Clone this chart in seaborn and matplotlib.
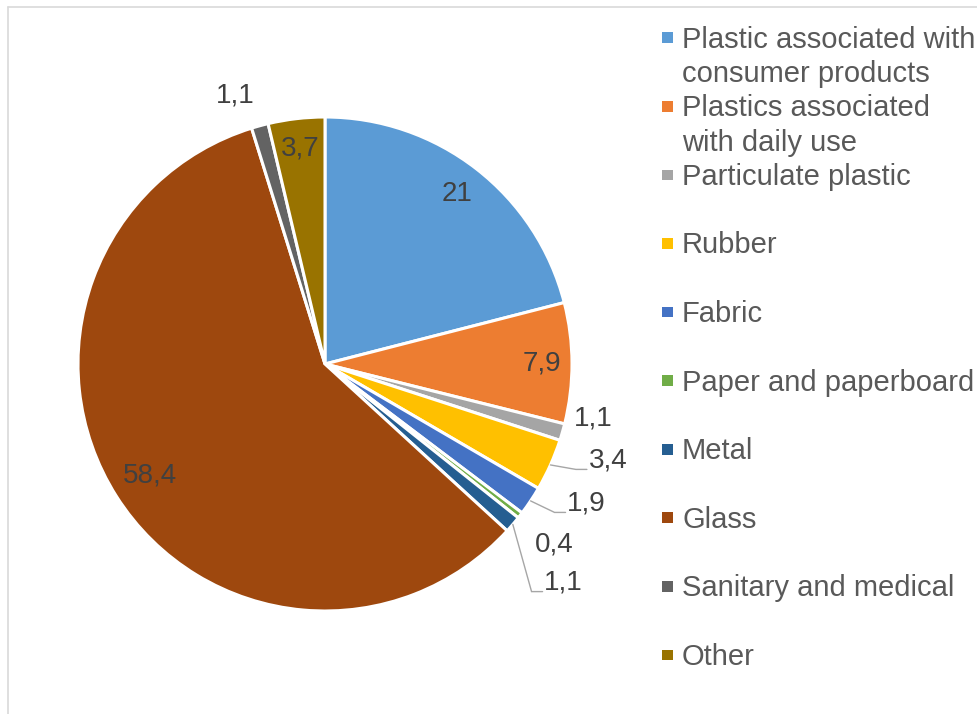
import textwrap
import numpy as np
import matplotlib
matplotlib.use("Agg")
import matplotlib.pyplot as plt
from matplotlib.patches import Rectangle
from matplotlib.lines import Line2D
import seaborn as sns

# ---- data -------------------------------------------------------------
categories = [
    "Plastic associated with consumer products",
    "Plastics associated with daily use",
    "Particulate plastic",
    "Rubber",
    "Fabric",
    "Paper and paperboard",
    "Metal",
    "Glass",
    "Sanitary and medical",
    "Other",
]
shares = [21, 7.9, 1.1, 3.4, 1.9, 0.4, 1.1, 58.4, 1.1, 3.7]
colors = ["#5B9BD5", "#ED7D31", "#A5A5A5", "#FFC000", "#4472C4",
          "#70AD47", "#255E91", "#9E480E", "#636363", "#997300"]

# label placement: radius (in pie radii) and angular nudge (degrees, clockwise)
label_radius = [0.87, 0.88, 1.107, 1.21, 1.20, 1.18, 1.31, 0.84, 1.146, 0.88]
label_nudge = [0, 0, -4.6, -5.3, -5.6, 0.4, 2.0, 0, -3.2, 0]
with_leader = [False, False, False, True, True, False, True, False, False, False]

# ---- style ------------------------------------------------------------
sns.set_theme(style="white")
plt.rcParams["font.family"] = ["Liberation Sans", "DejaVu Sans"]
palette = sns.color_palette(colors)

W, H = 977, 714
R = 247.0            # pie radius in pixels
CX, CY = 325.0, 364.0

fig = plt.figure(figsize=(W / 100, H / 100), dpi=100)
fig.patch.set_facecolor("white")
ax = fig.add_axes([0, 0, 1, 1])

wedges, _ = ax.pie(
    shares,
    colors=palette,
    startangle=90,
    counterclock=False,
    radius=1.0,
    wedgeprops=dict(edgecolor="white", linewidth=2.2),
)
ax.set_xlim(-CX / R, (W - CX) / R)
ax.set_ylim(-(H - CY) / R, CY / R)
ax.set_aspect("auto")
ax.axis("off")

# ---- data labels -------------------------------------------------------
label_color = "#404040"
leader_color = "#A6A6A6"
bounds = np.concatenate([[0], np.cumsum(shares)]) / np.sum(shares) * 360.0
px = 1.0 / R
for i, v in enumerate(shares):
    mid = (bounds[i] + bounds[i + 1]) / 2.0
    th = np.radians(mid + label_nudge[i])
    lx = label_radius[i] * np.sin(th)
    ly = label_radius[i] * np.cos(th)
    text = f"{v:g}".replace(".", ",")
    ax.text(lx, ly, text, ha="center", va="center", fontsize=20,
            color=label_color)
    if with_leader[i]:
        tm = np.radians(mid)
        sx, sy = np.sin(tm), np.cos(tm)
        ex, ey = lx - 21 * px, ly - 9 * px
        bx = ex - 11 * px
        ax.add_line(Line2D([sx, bx, ex], [sy, ey, ey], color=leader_color,
                           lw=1.0, solid_joinstyle="miter"))

# ---- legend -------------------------------------------------------------
def fx(x):
    return x / W


def fy(y):
    return 1 - y / H


legend_color = "#595959"
for i, (name, col) in enumerate(zip(categories, palette)):
    base = 47.5 + 68.6 * i
    lines = textwrap.wrap(name, 23)
    for j, line in enumerate(lines):
        fig.text(fx(682), fy(base + 35 * j), line, ha="left", va="baseline",
                 fontsize=21, color=legend_color)
    fig.patches.append(Rectangle((fx(662.3), fy(base - 4.5)), fx(10.7),
                                 10.7 / H, transform=fig.transFigure,
                                 facecolor=col, edgecolor="none"))

# ---- chart area frame ----------------------------------------------------
frame = "#D9D9D9"
fig.lines.append(Line2D([fx(7.5), fx(7.5)], [fy(7), fy(H + 5)],
                        transform=fig.transFigure, color=frame, lw=1.2))
fig.lines.append(Line2D([fx(7.5), fx(W + 5)], [fy(7), fy(7)],
                        transform=fig.transFigure, color=frame, lw=1.2))

fig.savefig("out.png", dpi=100, facecolor="white")
